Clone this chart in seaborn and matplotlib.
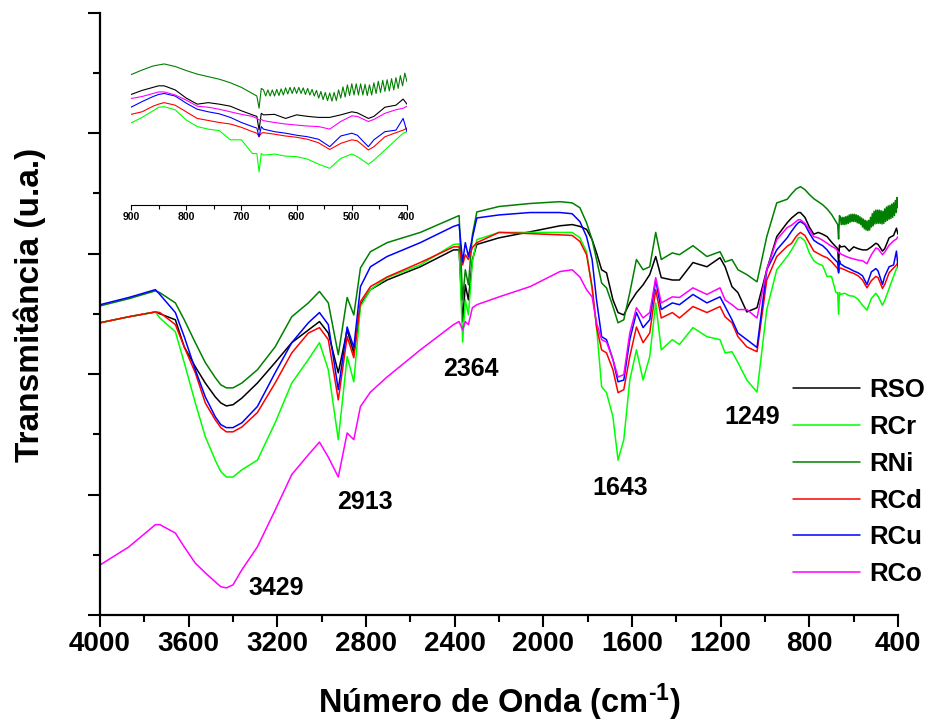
import matplotlib
matplotlib.use("Agg")
import matplotlib.pyplot as plt
from matplotlib.ticker import MultipleLocator
import numpy as np
import pandas as pd
import seaborn as sns

# ---------------- data ----------------
SAMPLES = ["RSO", "RCr", "RNi", "RCd", "RCu", "RCo"]
COLORS = ["#000000", "#00ff00", "#008000", "#ff0000", "#0000ff", "#ff00ff"]

# wavenumbers (cm-1) of the 4000-900 part, common to all samples
W_MAIN = [4000, 3870, 3750, 3730, 3660, 3620, 3570, 3525, 3480, 3455,
          3430, 3400, 3360, 3290, 3210, 3135, 3060, 3010, 2970, 2925,
          2885, 2855, 2825, 2780, 2705, 2555, 2405, 2380, 2364, 2352,
          2338, 2320, 2300, 2200, 2060, 1925, 1870, 1835, 1805, 1780,
          1760, 1737, 1715, 1686, 1663, 1637, 1610, 1580, 1550, 1520,
          1493, 1468, 1418, 1386, 1325, 1262, 1203, 1180, 1149, 1122,
          1082, 1036, 992, 947, 900]

RSO_MAIN = [48.5, 49.5, 50.3, 50.0, 49.0, 44.5, 41.2, 38.5, 36.2, 35.2,
            34.7, 34.9, 36.0, 38.5, 41.9, 45.2, 47.3, 48.7, 46.8, 40.2,
            47.3, 43.5, 51.5, 54.0, 55.6, 57.8, 60.6, 60.6, 48.7, 54.8,
            52.3, 59.0, 61.5, 62.6, 63.6, 64.6, 64.8, 64.5, 64.0, 62.3,
            60.1, 57.3, 56.8, 52.3, 50.2, 49.8, 51.8, 53.5, 54.8, 56.5,
            59.5, 56.0, 55.6, 55.6, 58.5, 57.8, 59.3, 57.8, 54.5, 53.5,
            50.3, 51.0, 57.3, 62.8, 65.1]
RCR_MAIN = [48.5, 49.5, 50.3, 49.3, 47.0, 41.9, 35.2, 29.6, 25.7, 23.8,
            22.9, 22.9, 24.1, 25.7, 31.9, 38.5, 42.4, 45.2, 40.7, 29.1,
            42.9, 38.7, 51.2, 54.0, 56.0, 58.1, 61.5, 61.6, 45.3, 52.3,
            49.8, 58.6, 62.3, 63.5, 63.5, 63.5, 63.5, 62.6, 60.3, 54.0,
            47.8, 37.9, 36.9, 32.9, 25.7, 29.1, 39.0, 44.0, 39.0, 42.9,
            51.8, 44.0, 45.7, 44.9, 47.7, 46.2, 45.7, 43.5, 43.7, 41.9,
            39.0, 37.0, 50.7, 57.3, 59.5]
RNI_MAIN = [51.3, 52.5, 53.8, 53.5, 51.8, 49.0, 45.2, 41.9, 39.4, 38.2,
            37.7, 37.7, 38.5, 40.7, 44.5, 49.5, 51.8, 53.7, 51.8, 43.2,
            52.7, 49.8, 57.6, 60.3, 61.8, 63.5, 65.9, 66.3, 52.3, 57.3,
            54.8, 63.1, 66.9, 67.8, 68.3, 68.6, 68.4, 67.6, 65.1, 62.3,
            59.0, 55.1, 54.3, 51.2, 48.5, 49.0, 53.5, 59.0, 57.3, 57.8,
            63.5, 59.0, 60.1, 59.8, 61.3, 59.5, 60.3, 58.6, 59.0, 57.3,
            56.5, 55.3, 62.8, 68.4, 69.0]
RCD_MAIN = [48.5, 49.5, 50.3, 50.2, 48.2, 44.5, 40.2, 35.2, 32.4, 31.1,
            30.4, 30.4, 31.2, 33.6, 38.5, 43.5, 46.8, 47.7, 45.7, 35.7,
            46.2, 42.7, 52.0, 54.5, 56.1, 58.5, 61.1, 61.1, 58.1, 59.8,
            59.0, 61.0, 61.8, 63.5, 63.3, 63.1, 63.0, 62.0, 59.8, 54.5,
            47.8, 44.0, 43.5, 40.7, 36.9, 37.4, 42.9, 47.8, 45.2, 46.8,
            54.0, 49.3, 50.2, 49.3, 51.2, 50.2, 51.2, 49.5, 48.5, 46.2,
            44.5, 43.7, 55.6, 59.5, 61.2]
RCU_MAIN = [51.5, 52.7, 54.0, 53.2, 50.2, 46.2, 40.7, 36.2, 32.9, 31.6,
            31.1, 31.1, 31.9, 34.6, 40.2, 45.2, 48.5, 50.2, 48.2, 37.4,
            47.8, 44.4, 54.5, 57.8, 59.5, 61.8, 64.5, 64.8, 58.6, 61.8,
            59.5, 62.6, 65.9, 66.4, 66.8, 66.8, 66.6, 65.3, 62.8, 59.0,
            52.3, 46.2, 45.7, 42.4, 38.7, 39.0, 45.7, 50.2, 47.7, 49.0,
            55.6, 50.7, 51.8, 51.5, 53.2, 51.8, 52.8, 51.2, 49.0, 46.8,
            45.7, 44.4, 57.3, 60.6, 62.6]
RCO_MAIN = [8.3, 11.3, 15.0, 15.0, 13.6, 11.3, 8.6, 7.0, 5.5, 4.7,
            4.5, 5.0, 7.5, 11.3, 17.4, 23.3, 26.6, 28.7, 26.2, 22.9,
            30.2, 29.1, 34.6, 37.0, 39.5, 44.0, 48.2, 48.7, 47.3, 48.7,
            48.2, 51.0, 51.5, 52.8, 54.5, 57.0, 57.3, 56.1, 54.0, 52.8,
            48.5, 45.7, 45.3, 42.4, 39.5, 39.9, 46.8, 51.0, 49.3, 50.2,
            56.0, 51.8, 52.8, 52.7, 54.3, 53.2, 54.3, 52.3, 51.5, 50.7,
            50.7, 49.3, 57.3, 62.3, 64.3]

W_LOW = [880, 860, 850, 840, 820, 800, 780, 760, 740, 720,
         700, 680, 672, 668, 664, 660, 640, 620, 600, 580,
         560, 540, 520, 500, 490, 470, 460, 440, 420, 407, 400]
RSO_LOW = [65.9, 66.5, 66.8, 66.8, 66.0, 64.4, 63.2, 63.5, 63.2, 62.8,
           61.9, 61.1, 60.8, 58.1, 61.4, 61.1, 61.2, 60.4, 61.1, 60.8,
           60.6, 60.6, 61.1, 61.7, 61.5, 60.4, 60.8, 62.6, 63.0, 64.2, 63.2]
RCR_LOW = [60.6, 61.9, 62.6, 62.7, 62.1, 60.1, 58.8, 58.3, 58.0, 56.2,
           56.2, 53.5, 53.5, 49.9, 53.5, 53.2, 53.4, 53.0, 52.9, 52.4,
           51.4, 50.6, 52.55, 53.4, 52.9, 51.4, 52.2, 54.2, 56.2, 57.5, 57.8]
RCD_LOW = [61.7, 62.8, 63.2, 63.5, 63.0, 61.7, 60.4, 60.0, 59.6, 59.3,
           58.65, 57.8, 57.5, 56.8, 57.5, 57.6, 57.3, 56.95, 56.7, 56.3,
           55.6, 54.3, 55.5, 56.2, 56.0, 54.2, 54.85, 56.8, 57.6, 58.1, 58.5]
RCU_LOW = [63.7, 64.7, 65.1, 65.3, 64.8, 63.4, 62.2, 61.7, 61.3, 60.6,
           59.6, 58.8, 58.5, 56.8, 58.8, 58.3, 57.8, 57.5, 57.1, 56.8,
           56.3, 54.85, 56.95, 57.5, 57.1, 54.85, 56.2, 57.8, 58.1, 60.4, 57.8]
RCO_LOW = [64.7, 65.3, 65.6, 65.6, 65.0, 64.0, 62.8, 62.6, 62.2, 61.7,
           61.2, 60.8, 60.4, 60.1, 60.2, 59.96, 59.6, 59.3, 59.1, 58.9,
           58.8, 58.3, 59.8, 60.9, 60.8, 59.8, 60.2, 61.4, 62.1, 62.4, 62.8]

# RNi is noisy (ripples) below 660 cm-1, so it is sampled more finely
W_LOW_RNI = [880, 860, 850, 840, 820, 800, 780, 760, 740, 720, 700, 680,
             672, 668, 664, 660, 656, 652, 648, 644, 640, 636, 632, 628,
             624, 620, 616, 612, 608, 604, 600, 596, 592, 588, 584, 580,
             576, 572, 568, 564, 560, 556, 552, 548, 544, 540, 536, 532,
             528, 524, 520, 516, 512, 508, 504, 500, 496, 492, 488, 484,
             480, 476, 472, 468, 464, 460, 456, 452, 448, 444, 440, 436,
             432, 428, 424, 420, 416, 412, 408, 404, 400]
RNI_LOW = [69.9, 70.7, 70.9, 71.1, 70.6, 69.8, 69.1, 68.6, 68.1, 67.4, 66.5, 65.3,
           64.8, 62.4, 66.3, 66.0, 64.8, 66.0, 64.8, 66.0, 64.8, 66.1, 64.9, 66.2,
           65.0, 66.4, 65.2, 66.5, 65.3, 66.5, 65.3, 66.5, 65.3, 66.4, 65.1, 66.3,
           65.0, 66.1, 64.8, 65.9, 64.4, 65.7, 64.1, 65.5, 63.9, 65.4, 63.8, 65.5,
           63.9, 66.0, 64.4, 66.6, 64.6, 67.0, 64.9, 67.2, 65.0, 67.2, 65.0, 67.2,
           65.0, 67.1, 64.9, 67.0, 65.0, 67.4, 65.3, 67.7, 65.5, 67.9, 65.7, 68.0,
           65.8, 68.2, 66.0, 68.4, 66.3, 68.8, 66.8, 69.3, 67.6]

PEAK_LABELS = ["3429", "2913", "2364", "1643", "1249"]
PEAK_X = [3206, 2805, 2326, 1654, 1059]
PEAK_Y = [4.5, 18.8, 40.9, 21.1, 32.9]

X_TICKS = [4000, 3600, 3200, 2800, 2400, 2000, 1600, 1200, 800, 400]
INSET_TICKS = [900, 800, 700, 600, 500, 400]

# ---------------- table ----------------
series = {
    "RSO": (W_MAIN + W_LOW, RSO_MAIN + RSO_LOW),
    "RCr": (W_MAIN + W_LOW, RCR_MAIN + RCR_LOW),
    "RNi": (W_MAIN + W_LOW_RNI, RNI_MAIN + RNI_LOW),
    "RCd": (W_MAIN + W_LOW, RCD_MAIN + RCD_LOW),
    "RCu": (W_MAIN + W_LOW, RCU_MAIN + RCU_LOW),
    "RCo": (W_MAIN + W_LOW, RCO_MAIN + RCO_LOW),
}
frames = []
for name in SAMPLES:
    w, t = series[name]
    frames.append(pd.DataFrame({"w": w, "T": t, "sample": name}))
df = pd.concat(frames, ignore_index=True)

# ---------------- style ----------------
sns.set_theme(style="ticks")
plt.rcParams["font.family"] = ["Liberation Sans", "DejaVu Sans"]
plt.rcParams["font.weight"] = "bold"
plt.rcParams["mathtext.fontset"] = "custom"
plt.rcParams["mathtext.rm"] = "Liberation Sans:bold"
plt.rcParams["mathtext.bf"] = "Liberation Sans:bold"
plt.rcParams["mathtext.default"] = "bf"
for key in ["axes.edgecolor", "xtick.color", "ytick.color", "text.color",
            "axes.labelcolor", "xtick.labelcolor", "ytick.labelcolor"]:
    plt.rcParams[key] = "black"

palette = dict(zip(SAMPLES, COLORS))

fig = plt.figure(figsize=(9.33, 7.27), dpi=100)
ax = fig.add_axes([100 / 933, 112 / 727, 798 / 933, 602.5 / 727])

sns.lineplot(data=df, x="w", y="T", hue="sample", hue_order=SAMPLES,
             palette=palette, sort=False, estimator=None,
             linewidth=1.1, ax=ax, legend=False)

ax.set_xlim(4000, 400)
ax.set_ylim(0, 100)
ax.xaxis.set_minor_locator(MultipleLocator(200))
ax.yaxis.set_major_locator(MultipleLocator(20))
ax.yaxis.set_minor_locator(MultipleLocator(10))
ax.set_xticks(X_TICKS)
ax.set_xticklabels([str(v) for v in X_TICKS])
ax.set_yticklabels([])
ax.tick_params(which="major", direction="out", length=8.6, width=1.5,
               labelsize=20, pad=3)
ax.tick_params(which="minor", direction="out", length=5, width=1.5)
for lab in ax.get_xticklabels():
    lab.set_fontweight("bold")
sns.despine(ax=ax)
for s in ["left", "bottom"]:
    ax.spines[s].set_linewidth(1.6)

ax.set_xlabel(r"Número de Onda (cm$^{\text{-1}}$)", fontsize=23.5,
              fontweight="bold", va="center", color="black")
ax.xaxis.set_label_coords(0.5, -0.145)
ax.set_ylabel("Transmitância (u.a.)", fontsize=24, fontweight="bold",
              va="center", color="black")
ax.yaxis.set_label_coords(-0.0877, 0.5145)

for lab, x, y in zip(PEAK_LABELS, PEAK_X, PEAK_Y):
    ax.text(x, y, lab, ha="center", va="center", fontsize=18,
            fontweight="bold", color="black")

handles = ax.get_lines()[:len(SAMPLES)]
leg = ax.legend(handles, SAMPLES, loc="upper left",
                bbox_to_anchor=(793 / 933, 1 - 378 / 727),
                bbox_transform=fig.transFigure, frameon=False,
                fontsize=18.5, handlelength=2.6, handletextpad=0.35,
                labelspacing=0.5, borderpad=0, borderaxespad=0)
for t in leg.get_texts():
    t.set_fontweight("bold")
    t.set_color("black")

# ---------------- inset ----------------
axi = fig.add_axes([131 / 933, (727 - 205) / 727, 276 / 933, 165 / 727])
axi.patch.set_alpha(0)
sns.lineplot(data=df, x="w", y="T", hue="sample", hue_order=SAMPLES,
             palette=palette, sort=False, estimator=None,
             linewidth=0.8, ax=axi, legend=False)
axi.set_xlim(900, 400)
axi.set_ylim(43.4, 75.8)
axi.set_xticks(INSET_TICKS)
axi.set_xticklabels([str(v) for v in INSET_TICKS])
axi.xaxis.set_minor_locator(MultipleLocator(50))
axi.set_yticks([])
axi.set_xlabel("")
axi.set_ylabel("")
for s in ["left", "top", "right"]:
    axi.spines[s].set_visible(False)
axi.spines["bottom"].set_linewidth(0.8)
axi.tick_params(which="major", direction="out", length=3.5, width=0.8,
                labelsize=7.5, pad=1.5)
axi.tick_params(which="minor", direction="out", length=3, width=0.8)
for lab in axi.get_xticklabels():
    lab.set_fontweight("bold")

fig.savefig("out.png", dpi=100)
